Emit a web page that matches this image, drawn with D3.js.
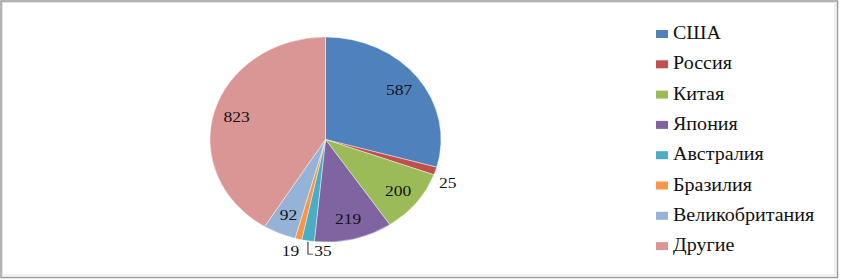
<!DOCTYPE html>
<html><head><meta charset="utf-8">
<script src="https://cdn.jsdelivr.net/npm/d3@7"></script>
<style>body{margin:0;background:#fff}svg{display:block}</style>
</head><body>
<svg id="c" width="842" height="280"></svg>
<script>
const categories = ["США","Россия","Китая","Япония","Австралия","Бразилия","Великобритания","Другие"];
const values = [587,25,200,219,35,19,92,823];
const colors = ["#4F81BD","#C0504D","#9BBB59","#8064A2","#4BACC6","#F79646","#95B3D7","#D99694"];

const FONT = "'Liberation Serif'";
const svg = d3.select("#c");
// frame
svg.append("rect").attr("x",2.5).attr("y",2.5).attr("width",832.5).attr("height",272.5)
  .attr("fill","none").attr("stroke","#e2e2e2").attr("stroke-width",1);
svg.append("rect").attr("x",1).attr("y",1).attr("width",836.5).attr("height",276.5)
  .attr("fill","none").attr("stroke","#9a9a9a").attr("stroke-width",1.5);

const cx = 325.5, cy = 139.5, R = 102.5, sx = 1.127;
const data = categories.map((c,i)=>({name:c, value:values[i], color:colors[i]}));
const pie = d3.pie().sort(null).value(d=>d.value);
const arcs = pie(data);
const arc = d3.arc().innerRadius(0).outerRadius(R);
const labelArc = d3.arc().innerRadius(R*0.8).outerRadius(R*0.8);
const edgeArc = d3.arc().innerRadius(R).outerRadius(R);

const g = svg.append("g").attr("transform",`translate(${cx},${cy}) scale(${sx},1)`);
g.selectAll("path.s").data(arcs).join("path").attr("class","s")
  .attr("d",arc).attr("fill",d=>d.data.color).attr("stroke","#fff").attr("stroke-width",0.4);

const inside = arcs.filter(a=>a.endAngle-a.startAngle>0.2);
const outside = arcs.filter(a=>a.endAngle-a.startAngle<=0.2)
  .sort((a,b)=>b.endAngle-a.endAngle);

g.selectAll("text.in").data(inside).join("text").attr("class","in")
  .attr("transform",d=>{const [x,y]=labelArc.centroid(d); return `translate(${x},${y})`;})
  .attr("text-anchor","middle").attr("dy","0.35em")
  .attr("font-family",FONT).attr("font-size",15.5).attr("fill","#111").text(d=>d.data.value);

// outside labels
const placed = [];
outside.forEach(d=>{
  const [ex,ey] = edgeArc.centroid(d);
  const mid = (d.startAngle+d.endAngle)/2;
  let lx, ly, anchor = "middle";
  if (Math.sin(mid) > 0.5) { lx = ex + 11; ly = ey + 12; }
  else { lx = ex - 7; ly = ey + 11; }
  const clash = placed.find(p=>Math.abs(p[1]-ly)<10 && Math.abs(p[0]-lx)<16);
  if (clash) {
    ly = clash[1];
    const by = ly + 4;
    g.append("path").attr("d",`M${ex},${ey+1}L${ex},${by}L${ex+4.5},${by}`)
      .attr("fill","none").attr("stroke","#222").attr("stroke-width",0.9);
    lx = ex + 5.5; anchor = "start";
  }
  placed.push([lx,ly]);
  g.append("text").attr("x",lx).attr("y",ly).attr("dy","0.35em")
    .attr("text-anchor",anchor).attr("font-family",FONT).attr("font-size",15.5)
    .attr("fill","#111").text(d.data.value);
});

// legend
const lg = svg.append("g").attr("transform","translate(656,0)");
const rows = lg.selectAll("g").data(data).join("g")
  .attr("transform",(d,i)=>`translate(0,${39 + i*30.3})`);
rows.append("rect").attr("x",0).attr("y",-9).attr("width",12).attr("height",8).attr("fill",d=>d.color);
const lt = rows.append("g").attr("transform",`translate(17,0) scale(${sx},1)`);
lt.append("text").attr("x",0).attr("y",0).attr("font-family",FONT).attr("font-size",17.8)
  .attr("fill","#111").text(d=>d.name);
</script>
</body></html>
